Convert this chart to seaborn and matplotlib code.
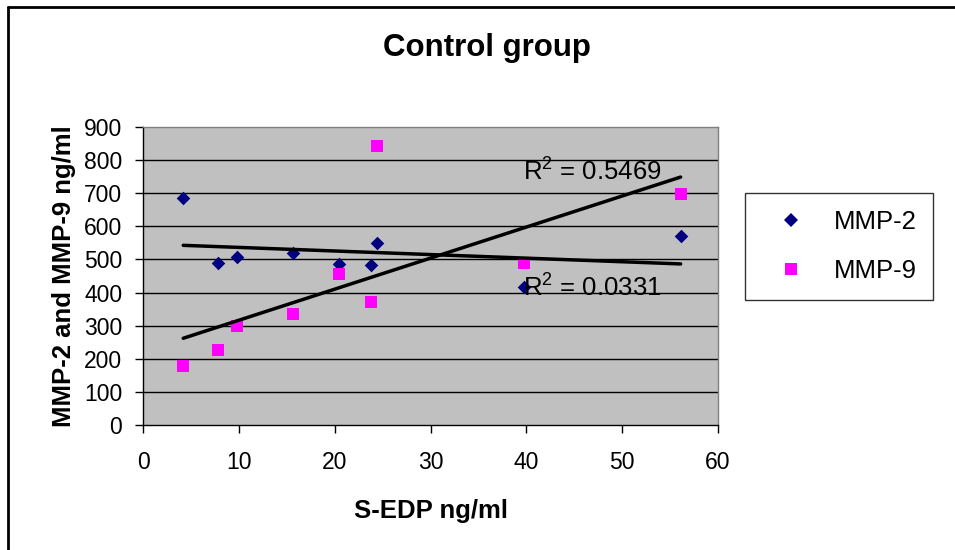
import numpy as np
import pandas as pd
import seaborn as sns
import matplotlib.pyplot as plt
from matplotlib.lines import Line2D

# Data
s_edp = [4.2, 7.8, 9.8, 15.7, 20.4, 23.8, 24.4, 39.8, 56.1]
mmp2 = [685, 490, 507, 519, 485, 482, 549, 418, 571]
mmp9 = [178, 227, 299, 335, 456, 372, 843, 490, 698]
series_names = ["MMP-2", "MMP-9"]
r2_labels = ["R$^2$ = 0.0331", "R$^2$ = 0.5469"]
x_ticks = [0, 10, 20, 30, 40, 50, 60]
y_ticks = list(range(0, 1000, 100))

sns.set_style("white")
plt.rcParams['font.family'] = ['Liberation Sans', 'DejaVu Sans']
plt.rcParams['text.color'] = 'black'
plt.rcParams['axes.labelcolor'] = 'black'
plt.rcParams['xtick.color'] = 'black'
plt.rcParams['ytick.color'] = 'black'
plt.rcParams['mathtext.default'] = 'regular'

df = pd.DataFrame({"x": s_edp * 2,
                   "val": mmp2 + mmp9,
                   "series": [series_names[0]] * len(s_edp) + [series_names[1]] * len(s_edp)})

fig = plt.figure(figsize=(9.55, 5.5), dpi=100)
ax = fig.add_axes([143 / 955, 1 - 425 / 550, (718 - 143) / 955, (425 - 127) / 550])
ax.set_facecolor("#C0C0C0")

colors = {"MMP-2": "#000080", "MMP-9": "#FF00FF"}
markers = {"MMP-2": "D", "MMP-9": "s"}
sizes = {"MMP-2": 48, "MMP-9": 75}

for name in series_names:
    sub = df[df.series == name]
    sns.regplot(data=sub, x="x", y="val", ax=ax, ci=None, truncate=True,
                marker=markers[name], color=colors[name],
                scatter_kws=dict(s=sizes[name], linewidths=0, alpha=1, zorder=3),
                line_kws=dict(color="black", lw=2.5, zorder=4))

for y in y_ticks[1:-1]:
    ax.axhline(y, color="black", lw=1, zorder=1)

ax.set_xlim(0, 60)
ax.set_ylim(0, 900)
ax.set_xticks(x_ticks)
ax.set_yticks(y_ticks)
ax.tick_params(axis="both", labelsize=16.5, length=6, width=1, color="black",
               direction="out", bottom=True, left=True)
ax.tick_params(axis="x", pad=13)
ax.tick_params(axis="y", pad=9)
for side in ["top", "right"]:
    ax.spines[side].set_color("#808080")
    ax.spines[side].set_linewidth(1)
for side in ["left", "bottom"]:
    ax.spines[side].set_color("black")
    ax.spines[side].set_linewidth(1)

ax.set_xlabel("S-EDP ng/ml", fontsize=18.5, fontweight="bold", labelpad=18)
ax.set_ylabel("MMP-2 and MMP-9 ng/ml", fontsize=18.5, fontweight="bold", labelpad=6)

ax.text(39.6, 415, r2_labels[0], fontsize=18.5, ha="left", va="center", zorder=5)
ax.text(39.6, 765, r2_labels[1], fontsize=18.5, ha="left", va="center", zorder=5)

fig.text(487 / 955, 1 - 48 / 550, "Control group", fontsize=22.5, fontweight="bold",
         ha="center", va="center")

handles = [Line2D([], [], ls="none", marker=markers[n], color=colors[n],
                  markersize=7 if n == "MMP-2" else 9, markeredgewidth=0) for n in series_names]
leg = fig.legend(handles, series_names, loc="upper left",
                 bbox_to_anchor=(745 / 955, 1 - 193 / 550), fontsize=18.5,
                 frameon=True, fancybox=False, edgecolor="black", labelspacing=1.0,
                 borderpad=0.65, handlelength=2.3, handletextpad=0.5, borderaxespad=0)
leg.get_frame().set_linewidth(1)

# figure border (top and left visible)
fig.add_artist(Line2D([8 / 955, 8 / 955], [0, 1 - 7 / 550], transform=fig.transFigure,
                      color="black", lw=2))
fig.add_artist(Line2D([8 / 955, 1], [1 - 7 / 550, 1 - 7 / 550], transform=fig.transFigure,
                      color="black", lw=2))

fig.savefig("out.png", dpi=100)
